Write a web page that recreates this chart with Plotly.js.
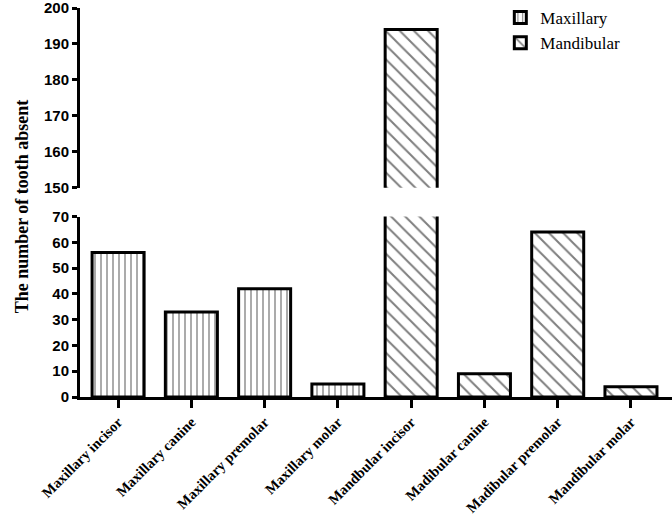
<!DOCTYPE html>
<html>
<head>
<meta charset="utf-8">
<script src="https://cdn.plot.ly/plotly-3.0.1.min.js"></script>
<style>html,body{margin:0;padding:0;background:#fff;}#chart{width:672px;height:515px;}</style>
</head>
<body>
<div id="chart"></div>
<script>
var categories = ["Maxillary incisor","Maxillary canine","Maxillary premolar","Maxillary molar",
                  "Mandbular incisor","Madibular canine","Madibular premolar","Mandibular molar"];
var maxillaryCats = ["Maxillary incisor","Maxillary canine","Maxillary premolar","Maxillary molar"];
var maxillaryValues = [56, 33, 42, 5];
var mandibularCats = ["Mandbular incisor","Madibular canine","Madibular premolar","Mandibular molar"];
var mandibularValues = [194, 9, 64, 4];
var lowerTicks = [0,10,20,30,40,50,60,70];
var upperTicks = [150,160,170,180,190,200];

var serif = "Liberation Serif, Times New Roman, serif";
var sans = "Liberation Sans, Arial, sans-serif";

var barLine = {color:"#000", width:3};
var patMax = {shape:"|", size:6, solidity:0.22, fgcolor:"#000", bgcolor:"#fff", fillmode:"overlay"};
var patMand = {shape:"\\", size:10, solidity:0.2, fgcolor:"#000", bgcolor:"#fff", fillmode:"overlay"};

function bar(name, xs, ys, pat, yaxis, showlegend){
  return {type:"bar", name:name, x:xs, y:ys, xaxis:"x", yaxis:yaxis, width:0.71,
    marker:{color:"#fff", line:barLine, pattern:pat}, showlegend:showlegend, hoverinfo:"skip"};
}

var data = [
  bar("Maxillary", maxillaryCats, maxillaryValues, patMax, "y", true),
  bar("Mandibular", mandibularCats, mandibularValues, patMand, "y", true),
  bar("Mandibular", mandibularCats, mandibularValues, patMand, "y2", false)
];

var yCommon = {showline:true, linewidth:3, linecolor:"#000", ticks:"outside", ticklen:5, tickwidth:3, tickcolor:"#000",
    tickfont:{family:sans, size:15, color:"#000", weight:"bold"}, showgrid:false, zeroline:false, anchor:"x",
    ticklabeloverflow:"allow"};

var layout = {
  width:672, height:515,
  margin:{l:80, r:0, t:7, b:118},
  paper_bgcolor:"#fff", plot_bgcolor:"rgba(0,0,0,0)",
  barmode:"overlay",
  showlegend:true,
  legend:{x:0.71, y:1.02, xanchor:"left", yanchor:"top", font:{family:serif, size:17, color:"#000"},
          bgcolor:"rgba(0,0,0,0)", tracegroupgap:0},
  xaxis:{type:"category", categoryorder:"array", categoryarray:categories, range:[-0.52, 7.56],
    showline:true, linewidth:3, linecolor:"#000", ticks:"outside", ticklen:8, tickwidth:3, tickcolor:"#000",
    tickangle:-45, tickfont:{family:serif, size:14.5, color:"#000", weight:"bold"},
    showgrid:false, zeroline:false, anchor:"y"},
  yaxis:Object.assign({domain:[0, 0.464], range:[0,70], tickvals:lowerTicks, ticktext:lowerTicks.map(String)}, yCommon),
  yaxis2:Object.assign({domain:[0.538, 1], range:[150,200], tickvals:upperTicks, ticktext:upperTicks.map(String)}, yCommon),
  annotations:[{text:"The number of tooth absent", textangle:-90, xref:"paper", yref:"paper",
    x:-0.098, y:0.49, xanchor:"center", yanchor:"middle", showarrow:false,
    font:{family:serif, size:18, color:"#000", weight:"bold"}}]
};

Plotly.newPlot("chart", data, layout, {displayModeBar:false, staticPlot:true});
</script>
</body>
</html>
